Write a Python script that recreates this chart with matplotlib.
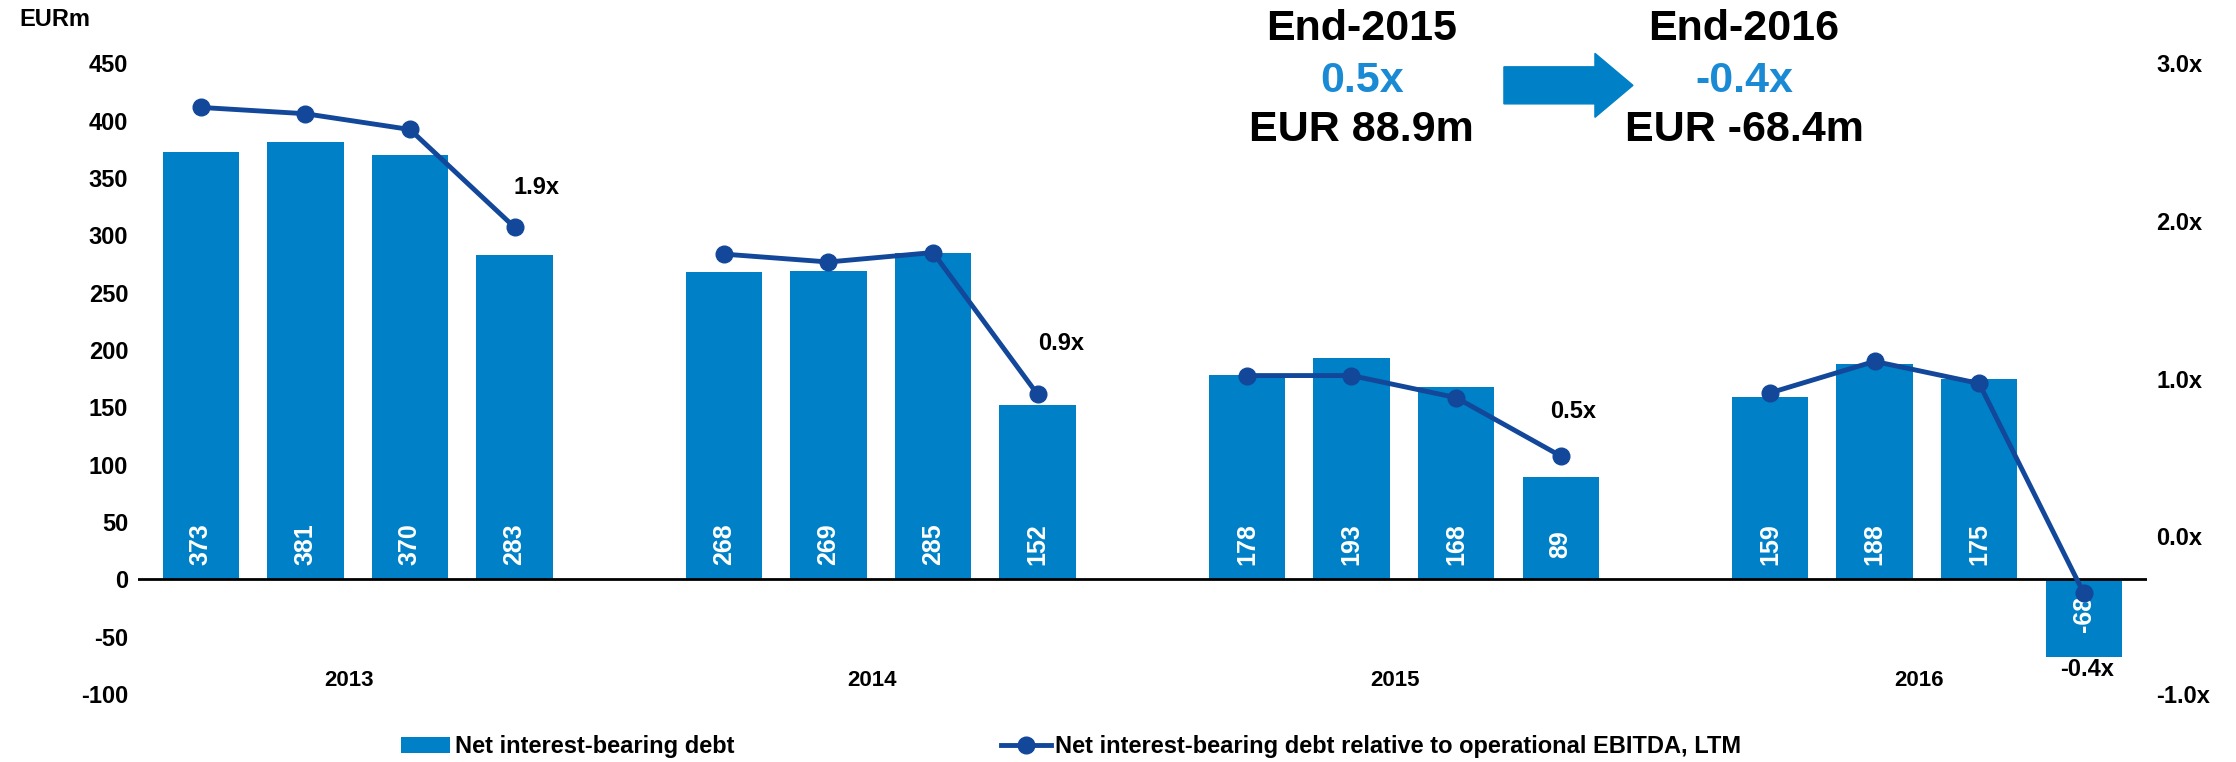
import numpy as np
import matplotlib.pyplot as plt
from matplotlib.patches import FancyArrow
from matplotlib.lines import Line2D
from matplotlib.patches import Patch

plt.rcParams['font.family'] = ['Liberation Sans', 'DejaVu Sans']
plt.rcParams['font.weight'] = 'bold'

# Data (quarterly, four per year)
years = ['2013', '2014', '2015', '2016']
debt = [373, 381, 370, 283, 268, 269, 285, 152, 178, 193, 168, 89, 159, 188, 175, -68]
ratio = [2.72, 2.68, 2.58, 1.96, 1.79, 1.74, 1.80, 0.90,
         1.02, 1.02, 0.88, 0.51, 0.91, 1.11, 0.97, -0.36]
ratio_labels = {3: '1.9x', 7: '0.9x', 11: '0.5x', 15: '-0.4x'}
left_ticks = list(range(-100, 451, 50))
right_ticks = [-1.0, 0.0, 1.0, 2.0, 3.0]
header_titles = ['End-2015', 'End-2016']
header_ratio = ['0.5x', '-0.4x']
header_debt = ['EUR 88.9m', 'EUR -68.4m']
legend_labels = ['Net interest-bearing debt',
                 'Net interest-bearing debt relative to operational EBITDA, LTM']

bar_color = '#0080C6'
line_color = '#12479A'

# quarter slots with an empty slot between years
x = np.array([i + i // 4 for i in range(len(debt))])

fig = plt.figure(figsize=(22.36, 7.62), dpi=100)
ax = fig.add_axes([0.0617, 0.089, 0.8983, 0.828])
ax2 = ax.twinx()

ax.bar(x, debt, width=0.73, color=bar_color, zorder=2)
ax.axhline(0, color='black', lw=2, zorder=3)
for xi, v in zip(x, debt):
    ax.text(xi, 31 if v >= 0 else -30, str(v), rotation=90, ha='center', va='center',
            color='white', fontsize=18, fontweight='bold', zorder=4)

for k, yr in enumerate(years):
    ax.text(x[4 * k:4 * k + 4].mean() - 0.08, -88, yr, ha='center', va='center',
            fontsize=16, fontweight='bold')

ax.set_xlim(-0.6, 18.6)
ax.set_ylim(-100, 450)
ax.set_yticks(left_ticks)
ax.set_yticklabels([str(t) for t in left_ticks], fontsize=17, fontweight='bold')
ax.set_xticks([])
ax.tick_params(axis='y', length=0, pad=7)
for s in ax.spines.values():
    s.set_visible(False)

# ratio line, one segment per year
for k in range(len(years)):
    sl = slice(4 * k, 4 * k + 4)
    ax2.plot(x[sl], ratio[sl], color=line_color, lw=3.5, marker='o', markersize=12, zorder=5)
offsets = {3: (16, 29), 7: (17, 37), 11: (9, 32), 15: (2, -55)}
for i, lab in ratio_labels.items():
    ax2.annotate(lab, (x[i], ratio[i]), xytext=offsets[i], textcoords='offset points',
                 ha='center', va='center', fontsize=17, fontweight='bold')
ax2.set_ylim(-1.0, 3.0)
ax2.set_yticks(right_ticks)
ax2.set_yticklabels([f'{t:.1f}x' for t in right_ticks], fontsize=17, fontweight='bold')
ax2.tick_params(axis='y', length=0, pad=7)
for s in ax2.spines.values():
    s.set_visible(False)

# header block with arrow
for cx, t, r, d in zip([0.609, 0.780], header_titles, header_ratio, header_debt):
    fig.text(cx, 0.962, t, ha='center', va='center', fontsize=31, fontweight='bold')
    fig.text(cx, 0.894, r, ha='center', va='center', fontsize=31, fontweight='bold',
             color='#1A8AD4')
    fig.text(cx, 0.830, d, ha='center', va='center', fontsize=31, fontweight='bold')

fig.patches.append(FancyArrow(0.6726, 0.888, 0.0577, 0, width=0.0486, head_width=0.084,
                              head_length=0.017, length_includes_head=True,
                              color=bar_color, transform=fig.transFigure, figure=fig))

fig.text(0.0085, 0.974, 'EURm', ha='left', va='center', fontsize=17, fontweight='bold')

handles = [Patch(facecolor=bar_color),
           Line2D([], [], color=line_color, lw=3.5, marker='o', markersize=12)]
fig.legend(handles, legend_labels, loc='center', bbox_to_anchor=(0.479, 0.02), ncol=2,
           frameon=False, columnspacing=11.3, handlelength=2.1,
           handletextpad=0.2, prop={'weight': 'bold', 'size': 17})

fig.savefig('out.png', dpi=100)
